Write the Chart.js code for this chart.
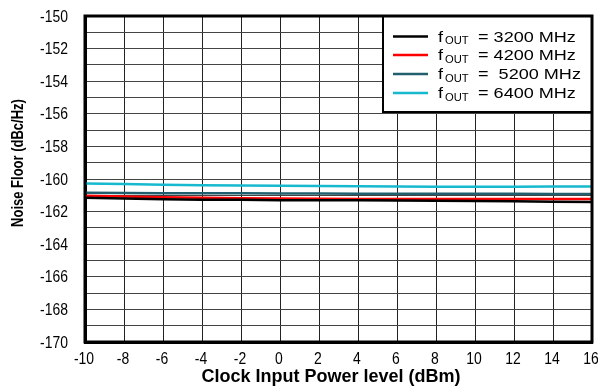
<!DOCTYPE html>
<html>
<head>
<meta charset="utf-8">
<script src="https://cdn.jsdelivr.net/npm/chart.js@4/dist/chart.umd.min.js"></script>
<style>
html,body{margin:0;padding:0;background:#fff;overflow:hidden;width:598px;height:387px;}
#wrap{position:absolute;left:0;top:0;width:600px;height:387px;}
</style>
</head>
<body>
<div id="wrap"><canvas id="c" width="600" height="387"></canvas></div>
<script>
const powerLevels = [-10, -8, -6, -4, -2, 0, 2, 4, 6, 8, 10, 12, 14, 16];
const freqLabels = ['3200 MHz', '4200 MHz', ' 5200 MHz', '6400 MHz'];
const nf3200 = [-161.15, -161.2, -161.24, -161.27, -161.28, -161.3, -161.3, -161.31, -161.32, -161.33, -161.35, -161.37, -161.39, -161.41];
const nf4200 = [-161.03, -161.08, -161.12, -161.15, -161.18, -161.2, -161.21, -161.22, -161.22, -161.22, -161.22, -161.22, -161.22, -161.22];
const nf5200 = [-160.85, -160.86, -160.87, -160.88, -160.88, -160.89, -160.89, -160.9, -160.9, -160.91, -160.91, -160.91, -160.92, -160.92];
const nf6400 = [-160.27, -160.3, -160.35, -160.38, -160.4, -160.42, -160.43, -160.44, -160.46, -160.47, -160.47, -160.47, -160.46, -160.46];
const seriesColors = ['#000000', '#ff0000', '#215f6e', '#17b9cf'];
const yTicks = [-170, -168, -166, -164, -162, -160, -158, -156, -154, -152, -150];
const xTitle = 'Clock Input Power level (dBm)';
const yTitle = 'Noise Floor (dBc/Hz)';

const allSeries = [nf3200, nf4200, nf5200, nf6400];
const datasets = allSeries.map((vals, i) => ({
  label: 'fOUT = ' + freqLabels[i],
  data: vals.map((v, j) => ({x: powerLevels[j], y: v})),
  borderColor: seriesColors[i],
  borderWidth: 2.5,
  pointRadius: 0,
  fill: false,
  tension: 0
}));

const SANS = '"Liberation Sans", Arial, sans-serif';

function stretchedText(ctx, text, x, y, sx, sy) {
  ctx.save();
  ctx.translate(x, y);
  ctx.scale(sx, sy || 1);
  ctx.fillText(text, 0, 0);
  ctx.restore();
}

const framePlugin = {
  id: 'frame',
  afterDatasetsDraw(chart) {
    const {ctx, chartArea: a} = chart;
    const xs = chart.scales.x, ys = chart.scales.y;
    ctx.save();
    ctx.strokeStyle = '#000';
    // legend box
    const bx = 383, by = a.top, bw = a.right - 383, bh = 96;
    ctx.fillStyle = '#fff';
    ctx.fillRect(bx, by, bw, bh);
    ctx.lineWidth = 2;
    ctx.strokeRect(bx, by, bw, bh);
    ctx.lineWidth = 3;
    ctx.strokeRect(a.left, a.top, a.right - a.left, a.bottom - a.top);
    const rows = [36.5, 55, 74, 93];
    chart.data.datasets.forEach((ds, i) => {
      const y = rows[i];
      ctx.strokeStyle = ds.borderColor;
      ctx.lineWidth = 2.5;
      ctx.beginPath();
      ctx.moveTo(393, y);
      ctx.lineTo(428, y);
      ctx.stroke();
      ctx.fillStyle = '#000';
      ctx.textBaseline = 'alphabetic';
      ctx.textAlign = 'left';
      ctx.font = '14px ' + SANS;
      stretchedText(ctx, 'f', 438, y + 5, 1.29);
      ctx.font = '10px ' + SANS;
      stretchedText(ctx, 'OUT', 445, y + 7.5, 1.12);
      ctx.font = '14px ' + SANS;
      stretchedText(ctx, ' = ' + freqLabels[i], 473, y + 5, 1.29);
    });
    // tick labels
    ctx.fillStyle = '#000';
    ctx.font = '17px ' + SANS;
    ctx.textAlign = 'right';
    ctx.textBaseline = 'middle';
    yTicks.forEach(v => stretchedText(ctx, String(v), 68, ys.getPixelForValue(v) + 1, 0.82));
    ctx.textAlign = 'center';
    ctx.textBaseline = 'alphabetic';
    powerLevels.forEach(v => stretchedText(ctx, String(v), xs.getPixelForValue(v) - 1, 364, 0.82));
    // axis titles
    ctx.font = 'bold 18px ' + SANS;
    ctx.fillText(xTitle, 331, 382);
    ctx.save();
    ctx.translate(19, 163);
    ctx.rotate(-Math.PI / 2);
    ctx.scale(1, 1.25);
    ctx.textBaseline = 'middle';
    ctx.font = 'bold 13px ' + SANS;
    ctx.fillText(yTitle, 0, 0);
    ctx.restore();
    ctx.restore();
  }
};

new Chart(document.getElementById('c'), {
  type: 'line',
  data: { datasets },
  options: {
    responsive: false,
    animation: false,
    devicePixelRatio: 1,
    layout: { padding: { top: 16, right: 0, left: 0, bottom: 0 } },
    plugins: { legend: { display: false }, tooltip: { enabled: false } },
    scales: {
      x: {
        type: 'linear',
        min: -10, max: 16,
        afterBuildTicks(scale) { scale.ticks = powerLevels.map(v => ({value: v})); },
        grid: { color: '#222', lineWidth: 1, drawTicks: false },
        border: { color: '#000', width: 3 },
        ticks: { display: false },
        afterFit(scale) { scale.height = 45; scale.paddingRight = 8; scale.paddingLeft = 0; }
      },
      y: {
        min: -170, max: -150,
        ticks: { display: false, stepSize: 1, autoSkip: false },
        grid: { color: '#444', lineWidth: 1, drawTicks: false },
        border: { color: '#000', width: 3 },
        afterFit(scale) { scale.width = 85; }
      }
    }
  },
  plugins: [framePlugin]
});
</script>
</body>
</html>
